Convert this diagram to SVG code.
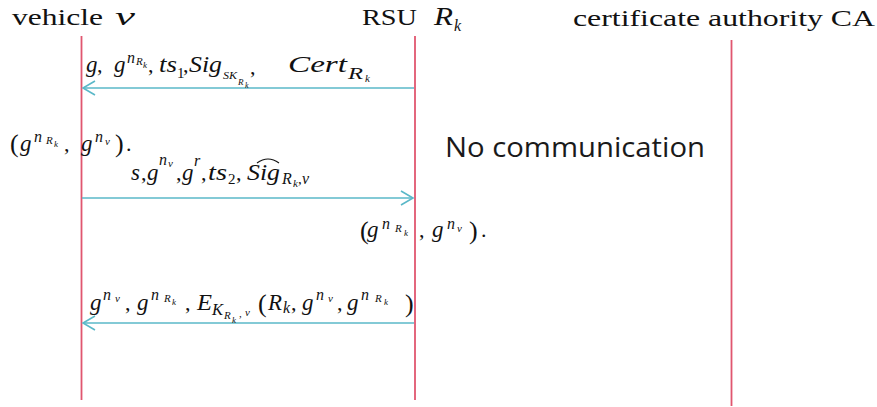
<svg xmlns="http://www.w3.org/2000/svg" width="877" height="407" viewBox="0 0 877 407">
<style>
.ttl{font-family:"Liberation Serif",serif;font-size:24px;fill:#111}
.ti{font-family:"Liberation Serif",serif;font-style:italic;font-size:25px;fill:#111}
.m{font-family:"Liberation Serif",serif;font-style:italic;font-size:23px;fill:#111}
.s{font-family:"Liberation Serif",serif;font-style:italic;font-size:16px;fill:#111}
.ss{font-family:"Liberation Serif",serif;font-style:italic;font-size:11px;fill:#111}
.r{font-family:"Liberation Serif",serif;font-size:22px;fill:#111}
.rs{font-family:"Liberation Serif",serif;font-size:15px;fill:#111}
.p{font-family:"Liberation Serif",serif;font-size:26px;fill:#111}
.nc{font-family:"Open Sans","Noto Sans",sans-serif;font-size:27px;fill:#1a1a1a}
.life{stroke:#e0566f;stroke-width:1.8;fill:none}
.msg{stroke:#5ab8c8;stroke-width:1.6;fill:none}
</style>
<defs>
<marker id="ah" viewBox="-15 -9 17 18" refX="0" refY="0" markerWidth="17" markerHeight="18" orient="auto" markerUnits="userSpaceOnUse">
<path d="M -12 -7 L 0 0 L -12 7" fill="none" stroke="#5ab8c8" stroke-width="1.6"/>
</marker>
</defs>
<rect width="877" height="407" fill="#fff"/>

<g id="vehicle">
<text class="ttl" x="12" y="25" textLength="91" lengthAdjust="spacingAndGlyphs">vehicle</text>
<text class="ti" x="115" y="25" textLength="20" lengthAdjust="spacingAndGlyphs">v</text>
<line class="life" x1="81.5" y1="36" x2="81.5" y2="400"/>
</g>

<g id="rsu">
<text class="ttl" x="362" y="25" textLength="55" lengthAdjust="spacingAndGlyphs">RSU</text>
<text class="ti" x="434" y="25" textLength="19" lengthAdjust="spacingAndGlyphs">R</text>
<text class="s" x="454" y="31">k</text>
<line class="life" x1="415" y1="36" x2="415" y2="400"/>
</g>

<g id="ca">
<text class="ttl" x="573" y="26" textLength="302" lengthAdjust="spacingAndGlyphs">certificate authority CA</text>
<line class="life" x1="731.5" y1="40" x2="731.5" y2="406"/>
</g>

<g id="note">
<text class="nc" x="445" y="157" textLength="260" lengthAdjust="spacingAndGlyphs">No communication</text>
</g>

<g id="connectors">
<line class="msg" x1="414" y1="88" x2="83" y2="88" marker-end="url(#ah)"/>
<line class="msg" x1="82" y1="198" x2="413" y2="198" marker-end="url(#ah)"/>
<line class="msg" x1="414" y1="323" x2="83" y2="323" marker-end="url(#ah)"/>
</g>

<g id="label1">
<text class="m" x="86" y="72">g</text>
<text class="r" x="97" y="72">,</text>
<text class="m" x="114" y="72">g</text>
<text class="s" x="127" y="63">n</text>
<text class="ss" x="136" y="65">R</text>
<text class="ss" x="143" y="68" style="font-size:9px">k</text>
<text class="r" x="148" y="72">,</text>
<text class="m" x="159" y="72" textLength="18" lengthAdjust="spacingAndGlyphs">ts</text>
<text class="rs" x="177" y="78">1</text>
<text class="r" x="183" y="72">,</text>
<text class="m" x="189" y="72" textLength="33" lengthAdjust="spacingAndGlyphs">Sig</text>
<text class="ss" x="223" y="79" textLength="14" lengthAdjust="spacingAndGlyphs">SK</text>
<text class="ss" x="238" y="85" style="font-size:9px">R</text>
<text class="ss" x="245" y="88" style="font-size:8px">k</text>
<text class="r" x="250" y="74">,</text>
<text class="m" x="288" y="72" textLength="59" lengthAdjust="spacingAndGlyphs">Cert</text>
<text class="s" x="348" y="79" textLength="15" lengthAdjust="spacingAndGlyphs">R</text>
<text class="ss" x="365" y="82">k</text>
</g>

<g id="label2">
<text class="p" x="10" y="152">(</text>
<text class="m" x="20" y="151">g</text>
<text class="s" x="34" y="142">n</text>
<text class="ss" x="46" y="144">R</text>
<text class="ss" x="54" y="147" style="font-size:9px">k</text>
<text class="r" x="64" y="151">,</text>
<text class="m" x="81" y="151">g</text>
<text class="s" x="95" y="142">n</text>
<text class="ss" x="105" y="145">v</text>
<text class="p" x="115" y="152">)</text>
<text class="r" x="126" y="151">.</text>
</g>

<g id="label3">
<text class="m" x="131" y="180">s</text>
<text class="r" x="141" y="180">,</text>
<text class="m" x="147" y="180">g</text>
<text class="s" x="159" y="165">n</text>
<text class="ss" x="168" y="167">v</text>
<text class="r" x="176" y="180">,</text>
<text class="m" x="182" y="180">g</text>
<text class="s" x="194" y="166">r</text>
<text class="r" x="201" y="180">,</text>
<text class="m" x="208" y="180" textLength="19" lengthAdjust="spacingAndGlyphs">ts</text>
<text class="rs" x="228" y="184">2</text>
<text class="r" x="236" y="180">,</text>
<text class="m" x="247" y="180" textLength="33" lengthAdjust="spacingAndGlyphs">Sig</text>
<path d="M 257 163 Q 268 155 279 163" fill="none" stroke="#111" stroke-width="1.2"/>
<text class="s" x="282" y="184">R</text>
<text class="ss" x="293" y="187">k</text>
<text class="rs" x="298" y="184">,</text>
<text class="s" x="302" y="184">v</text>
</g>

<g id="label4">
<text class="p" x="360" y="239">(</text>
<text class="m" x="367" y="237">g</text>
<text class="s" x="382" y="229">n</text>
<text class="ss" x="395" y="232">R</text>
<text class="ss" x="404" y="236" style="font-size:9px">k</text>
<text class="r" x="419" y="237">,</text>
<text class="m" x="432" y="237">g</text>
<text class="s" x="447" y="229">n</text>
<text class="ss" x="457" y="232">v</text>
<text class="p" x="469" y="239">)</text>
<text class="r" x="481" y="237">.</text>
</g>

<g id="label5">
<text class="m" x="90" y="310">g</text>
<text class="s" x="103" y="300">n</text>
<text class="ss" x="115" y="302">v</text>
<text class="r" x="125" y="310">,</text>
<text class="m" x="137" y="310">g</text>
<text class="s" x="151" y="300">n</text>
<text class="ss" x="164" y="302">R</text>
<text class="ss" x="172" y="305" style="font-size:9px">k</text>
<text class="r" x="185" y="310">,</text>
<text class="m" x="197" y="310" textLength="15" lengthAdjust="spacingAndGlyphs">E</text>
<text class="s" x="212" y="315" textLength="11" lengthAdjust="spacingAndGlyphs">K</text>
<text class="ss" x="224" y="319">R</text>
<text class="ss" x="232" y="323" style="font-size:9px">k</text>
<text class="ss" x="239" y="317">,</text>
<text class="ss" x="245" y="316">v</text>
<text class="p" x="258" y="312">(</text>
<text class="m" x="268" y="310" textLength="14" lengthAdjust="spacingAndGlyphs">R</text>
<text class="s" x="283" y="313">k</text>
<text class="r" x="291" y="310">,</text>
<text class="m" x="302" y="310">g</text>
<text class="s" x="316" y="300">n</text>
<text class="ss" x="328" y="302">v</text>
<text class="r" x="337" y="310">,</text>
<text class="m" x="347" y="310">g</text>
<text class="s" x="361" y="300">n</text>
<text class="ss" x="375" y="302">R</text>
<text class="ss" x="384" y="305" style="font-size:9px">k</text>
<text class="p" x="405" y="312">)</text>
</g>
</svg>
